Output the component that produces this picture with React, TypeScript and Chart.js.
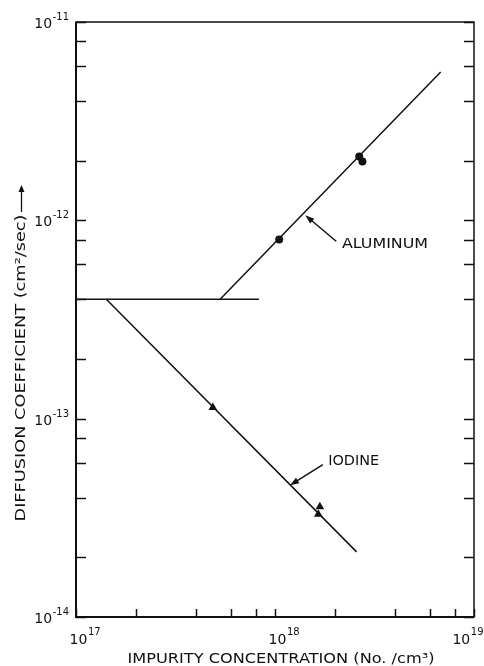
import React, { useEffect, useRef } from "react";
import { Chart, registerables } from "chart.js";

Chart.register(...registerables);

// ---- axis ranges and ticks ----
const xMin = 1e17;
const xMax = 1e19;
const yMin = 1e-14;
const yMax = 1e-11;
const xDecades = [17, 18, 19];
const yDecades = [-14, -13, -12, -11];
const minorMultipliers = [2, 4, 6, 8];

// ---- data ----
const aluminumPointsX = [1.05e18, 2.65e18, 2.75e18];
const aluminumPointsY = [8.0e-13, 2.1e-12, 1.98e-12];
const aluminumLineX = [5.3e17, 6.8e18];
const aluminumLineY = [4.0e-13, 5.6e-12];
const plateauLineX = [1e17, 8.3e17];
const plateauLineY = [4.0e-13, 4.0e-13];
const iodinePointsX = [4.87e17, 1.68e18, 1.65e18];
const iodinePointsY = [1.14e-13, 3.6e-14, 3.3e-14];
const iodineLineX = [1.42e17, 2.57e18];
const iodineLineY = [4.0e-13, 2.13e-14];

// ---- text ----
const xTitle = "IMPURITY CONCENTRATION (No. /cm³)";
const yTitle = "DIFFUSION COEFFICIENT (cm²/sec)";
const annotationLabels = ["ALUMINUM", "IODINE"];
const annotationTextX = [2.17e18, 1.85e18];
const annotationTextY = [7.57e-13, 6.1e-14];
const annotationTailX = [2.03e18, 1.74e18];
const annotationTailY = [7.84e-13, 5.86e-14];
const annotationTipX = [1.42e18, 1.19e18];
const annotationTipY = [1.06e-12, 4.62e-14];
const annotationWidths = [86, 51];

const INK = "#111";
const FONT = '"DejaVu Sans", "Liberation Sans", sans-serif';

const toPoints = (xs: number[], ys: number[]) => xs.map((x, i) => ({ x, y: ys[i] }));

function fitText(ctx: CanvasRenderingContext2D, text: string, x: number, y: number, width: number, size: number, align: "left" | "center") {
  ctx.save();
  ctx.font = `${size}px ${FONT}`;
  const w = ctx.measureText(text).width;
  const s = width / w;
  ctx.translate(x, y);
  ctx.scale(s, 1);
  ctx.textBaseline = "middle";
  ctx.textAlign = align;
  ctx.fillText(text, 0, 0);
  ctx.restore();
}

function arrow(ctx: CanvasRenderingContext2D, x1: number, y1: number, x2: number, y2: number, head: number, half: number) {
  const ang = Math.atan2(y2 - y1, x2 - x1);
  ctx.beginPath();
  ctx.moveTo(x1, y1);
  ctx.lineTo(x2 - Math.cos(ang) * head * 0.6, y2 - Math.sin(ang) * head * 0.6);
  ctx.stroke();
  ctx.beginPath();
  ctx.moveTo(x2, y2);
  ctx.lineTo(x2 - Math.cos(ang) * head - Math.sin(ang) * half, y2 - Math.sin(ang) * head + Math.cos(ang) * half);
  ctx.lineTo(x2 - Math.cos(ang) * head + Math.sin(ang) * half, y2 - Math.sin(ang) * head - Math.cos(ang) * half);
  ctx.closePath();
  ctx.fill();
}

const decorPlugin = {
  id: "decor",
  afterDraw(chart: any) {
    const ctx: CanvasRenderingContext2D = chart.ctx;
    const xs = chart.scales.x;
    const ys = chart.scales.y;
    const a = chart.chartArea;
    ctx.save();
    ctx.strokeStyle = INK;
    ctx.fillStyle = INK;

    // frame
    ctx.lineWidth = 1.5;
    ctx.strokeRect(a.left, a.top, a.right - a.left, a.bottom - a.top);
    ctx.lineWidth = 2;
    ctx.beginPath();
    ctx.moveTo(a.left, a.top);
    ctx.lineTo(a.left, a.bottom);
    ctx.lineTo(a.right, a.bottom);
    ctx.stroke();

    // ticks
    ctx.lineWidth = 1.5;
    const mults = [1, ...minorMultipliers];
    yDecades.forEach((d) => {
      mults.forEach((m) => {
        const v = m * Math.pow(10, d);
        if (v < yMin * 0.999 || v > yMax * 1.001) return;
        const py = Math.round(ys.getPixelForValue(v)) + 0.5;
        ctx.beginPath();
        ctx.moveTo(a.left, py);
        ctx.lineTo(a.left + 10, py);
        ctx.moveTo(a.right, py);
        ctx.lineTo(a.right - 10, py);
        ctx.stroke();
      });
    });
    xDecades.forEach((d) => {
      mults.forEach((m) => {
        const v = m * Math.pow(10, d);
        if (v < xMin * 0.999 || v > xMax * 1.001) return;
        const px = Math.round(xs.getPixelForValue(v)) + 0.5;
        ctx.beginPath();
        ctx.moveTo(px, a.bottom);
        ctx.lineTo(px, a.bottom - 8);
        ctx.stroke();
      });
    });

    // y tick labels
    yDecades.forEach((d) => {
      const py = ys.getPixelForValue(Math.pow(10, d));
      const exp = String(d);
      ctx.font = `10px ${FONT}`;
      ctx.textBaseline = "alphabetic";
      ctx.textAlign = "right";
      const ew = ctx.measureText(exp).width;
      const rx = a.left - 7;
      ctx.fillText(exp, rx, py - 2);
      ctx.font = `14px ${FONT}`;
      ctx.fillText("10", rx - ew - 0.5, py + 6);
    });

    // x tick labels
    xDecades.forEach((d) => {
      const px = xs.getPixelForValue(Math.pow(10, d));
      const exp = String(d);
      ctx.font = `14px ${FONT}`;
      const w10 = ctx.measureText("10").width;
      ctx.font = `10px ${FONT}`;
      const ew = ctx.measureText(exp).width;
      let cx = px + 2.5;
      const limit = chart.width - 1;
      if (cx + w10 / 2 + ew > limit) cx = limit - ew - w10 / 2;
      ctx.textAlign = "left";
      ctx.textBaseline = "alphabetic";
      ctx.font = `14px ${FONT}`;
      ctx.fillText("10", cx - w10 / 2, a.bottom + 27);
      ctx.font = `10px ${FONT}`;
      ctx.fillText(exp, cx + w10 / 2 + 0.5, a.bottom + 18);
    });

    // axis titles
    fitText(ctx, xTitle, (a.left + a.right) / 2 + 6, a.bottom + 42, 307, 14, "center");
    ctx.save();
    ctx.translate(21, 368);
    ctx.rotate(-Math.PI / 2);
    fitText(ctx, yTitle, 0, 0, 307, 14, "center");
    ctx.restore();
    ctx.lineWidth = 1.3;
    arrow(ctx, 21.5, 212, 21.5, 185, 7, 3);

    // annotations
    annotationLabels.forEach((label, i) => {
      const tx = xs.getPixelForValue(annotationTextX[i]);
      const ty = ys.getPixelForValue(annotationTextY[i]);
      fitText(ctx, label, tx, ty, annotationWidths[i], 14, "left");
      const x1 = xs.getPixelForValue(annotationTailX[i]);
      const y1 = ys.getPixelForValue(annotationTailY[i]);
      const x2 = xs.getPixelForValue(annotationTipX[i]);
      const y2 = ys.getPixelForValue(annotationTipY[i]);
      ctx.lineWidth = 1.5;
      arrow(ctx, x1, y1, x2, y2, 9, 3.2);
    });

    ctx.restore();
  },
};

export default function App() {
  const ref = useRef<HTMLCanvasElement | null>(null);

  useEffect(() => {
    if (!ref.current) return;
    const lineDs = (label: string, xsArr: number[], ysArr: number[]) => ({
      label,
      data: toPoints(xsArr, ysArr),
      showLine: true,
      borderColor: INK,
      borderWidth: 1.5,
      pointRadius: 0,
      fill: false,
    });
    const chart = new Chart(ref.current, {
      type: "scatter",
      data: {
        datasets: [
          {
            label: "Aluminum data",
            data: toPoints(aluminumPointsX, aluminumPointsY),
            pointStyle: "circle",
            pointRadius: 4,
            backgroundColor: INK,
            borderColor: INK,
            borderWidth: 0,
          },
          {
            label: "Iodine data",
            data: toPoints(iodinePointsX, iodinePointsY),
            pointStyle: "triangle",
            pointRadius: 5,
            backgroundColor: INK,
            borderColor: INK,
            borderWidth: 0,
          },
          lineDs("Aluminum fit", aluminumLineX, aluminumLineY),
          lineDs("Plateau", plateauLineX, plateauLineY),
          lineDs("Iodine fit", iodineLineX, iodineLineY),
        ] as any,
      },
      options: {
        responsive: false,
        maintainAspectRatio: false,
        animation: false,
        devicePixelRatio: 1,
        layout: { padding: { left: 76, right: 10, top: 22, bottom: 49 } },
        plugins: { legend: { display: false }, tooltip: { enabled: false } },
        scales: {
          x: { type: "logarithmic", min: xMin, max: xMax, display: false },
          y: { type: "logarithmic", min: yMin, max: yMax, display: false },
        },
      } as any,
      plugins: [decorPlugin],
    });
    return () => chart.destroy();
  }, []);

  return (
    <div style={{ position: "fixed", left: 0, top: 0, width: 484, height: 666, background: "#fff" }}>
      <canvas ref={ref} width={484} height={666} />
    </div>
  );
}
